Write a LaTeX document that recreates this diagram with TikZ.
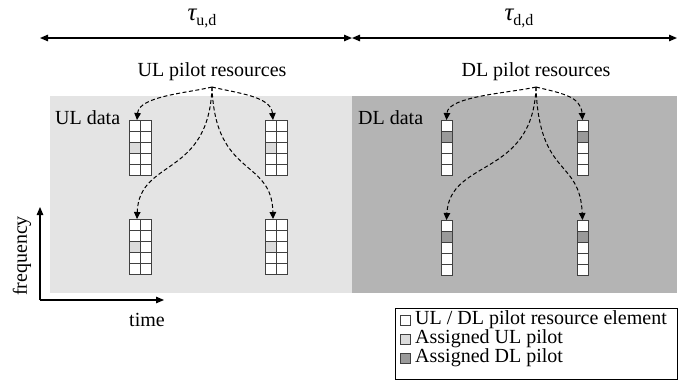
\documentclass[tikz,border=0pt]{standalone}
\usepackage{fontspec}
\setmainfont{Liberation Serif}
\usetikzlibrary{arrows.meta}
\definecolor{ulbg}{HTML}{E4E4E4}
\definecolor{dlbg}{HTML}{B4B4B4}
\definecolor{ulcell}{HTML}{DCDCDC}
\definecolor{dlcell}{HTML}{9A9A9A}
\definecolor{cellrule}{HTML}{404040}
% duration symbol: italic tau with an upright subscript
\newcommand\durlabel[1]{{\fontsize{25}{26}\selectfont\itshape τ}\raisebox{-5pt}{\fontsize{16}{16}\selectfont #1}}
\begin{document}
\begin{tikzpicture}[x=1pt,y=-1pt,
  every node/.style={font=\fontsize{20}{24}\selectfont, inner sep=0pt},
  span/.style={line width=1.3pt, {Triangle[length=8pt,width=6.5pt]}-{Triangle[length=8pt,width=6.5pt]}},
  axis/.style={line width=1.1pt, -{Triangle[length=8pt,width=6.5pt]}},
  pilotlink/.style={line width=1pt, dash pattern=on 4pt off 2.5pt, -{Triangle[length=7pt,width=6.5pt]}},
  cell/.style={draw=cellrule, line width=0.8pt},
  ulgrid/.pic={
    \coordinate (-in) at (8,0);
    \foreach \r in {0,...,4}{
      \foreach \c in {0,1}{
        \draw[cell, fill=white] (\c*11,\r*11) rectangle ++(11,11);
      }
    }
    \draw[cell, fill=ulcell] (0,22) rectangle ++(11,11);
  },
  dlgrid/.pic={
    \coordinate (-in) at (5.5,0);
    \foreach \r in {0,...,4}{
      \draw[cell, fill=white] (0,\r*11) rectangle ++(11,11);
    }
    \draw[cell, fill=dlcell] (0,11) rectangle ++(11,11);
  },
]
\useasboundingbox (0,0) rectangle (681,381);

% frame periods
\coordinate (t0) at (40,38);
\coordinate (t1) at (352,38);
\coordinate (t2) at (677,38);
\draw[span] (t0) -- (t1);
\draw[span] (t1) -- (t2);
\node (tauu) at (202,18) {\durlabel{u,d}};
\node (taud) at (519,18) {\durlabel{d,d}};

% data regions
\fill[ulbg] (50,96) rectangle (352,293);
\fill[dlbg] (352,96) rectangle (677,293);
\node[anchor=west] (uldata) at (55,118) {UL data};
\node[anchor=west] (dldata) at (358,118) {DL data};

% pilot resource labels
\node (ullab) at (212,72) {UL pilot resources};
\node (dllab) at (536,72) {DL pilot resources};
\coordinate (usrc) at (212,87);
\coordinate (dsrc) at (536,87);

% resource grids
\pic (u1) at (129,120) {ulgrid};
\pic (u2) at (265,120) {ulgrid};
\pic (u3) at (129,219) {ulgrid};
\pic (u4) at (265,219) {ulgrid};
\pic (d1) at (441,120) {dlgrid};
\pic (d2) at (577,120) {dlgrid};
\pic (d3) at (441,220) {dlgrid};
\pic (d4) at (577,220) {dlgrid};

% pilot assignment links
\draw[pilotlink] (usrc) .. controls (188,93) and (139,96) .. (u1-in);
\draw[pilotlink] (usrc) .. controls (236,93) and (271,96) .. (u2-in);
\draw[pilotlink] (usrc) .. controls (209,178) and (139,158) .. (u3-in);
\draw[pilotlink] (usrc) .. controls (215,178) and (272,158) .. (u4-in);
\draw[pilotlink] (dsrc) .. controls (510,93) and (448,96) .. (d1-in);
\draw[pilotlink] (dsrc) .. controls (560,93) and (581,96) .. (d2-in);
\draw[pilotlink] (dsrc) .. controls (533,178) and (450,158) .. (d3-in);
\draw[pilotlink] (dsrc) .. controls (539,178) and (580,158) .. (d4-in);

% time-frequency axes
\coordinate (org) at (40,300);
\coordinate (fy) at (40,207);
\coordinate (tx) at (164,300);
\draw[axis] (org) -- (fy);
\draw[axis] (org) -- (tx);
\node[rotate=90] (freq) at (22,256) {frequency};
\node (time) at (147,320) {time};

% legend
\node[draw, line width=0.9pt, minimum width=282pt, minimum height=71pt, anchor=north west] (legend) at (395,308) {};
\node[cell, fill=white, minimum size=10pt] (k1) at (405,320) {};
\node[cell, fill=ulcell, minimum size=10pt] (k2) at (405,339) {};
\node[cell, fill=dlcell, minimum size=10pt] (k3) at (405,358) {};
\node[anchor=west] (l1) at (415,320) {UL / DL pilot resource element};
\node[anchor=west] (l2) at (415,339) {Assigned UL pilot};
\node[anchor=west] (l3) at (415,358) {Assigned DL pilot};
\end{tikzpicture}
\end{document}
